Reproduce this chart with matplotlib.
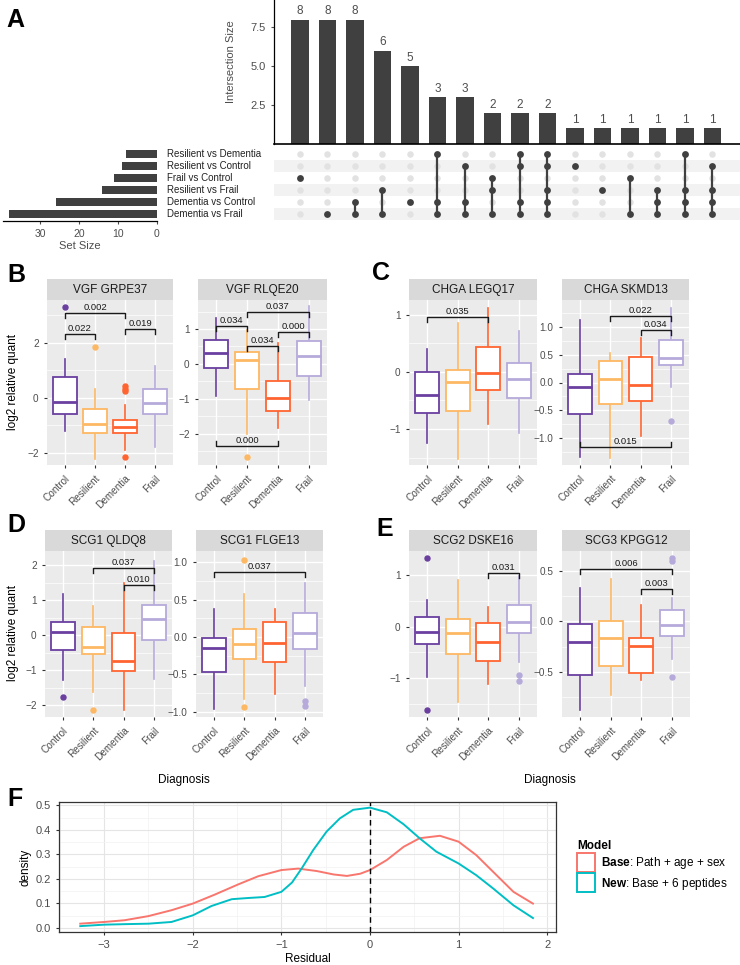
import numpy as np
import matplotlib
matplotlib.use('Agg')
from matplotlib import pyplot as plt
from matplotlib.patches import Patch
from matplotlib.ticker import AutoMinorLocator

plt.rcParams['font.family'] = ['Liberation Sans', 'DejaVu Sans']
plt.rcParams['mathtext.fontset'] = 'custom'
plt.rcParams['mathtext.rm'] = 'Liberation Sans'
plt.rcParams['mathtext.bf'] = 'Liberation Sans:bold'

W, H = 740, 965

# ---------------- panel A (upset) data
set_names = ['Resilient vs Dementia', 'Resilient vs Control', 'Frail vs Control',
             'Resilient vs Frail', 'Dementia vs Control', 'Dementia vs Frail']
set_sizes = [8, 9, 11, 14, 26, 38]
inter_sizes = [8, 8, 8, 6, 5, 3, 3, 2, 2, 2, 1, 1, 1, 1, 1, 1]
inter_members = [[2], [5], [4, 5], [3, 5], [4], [0, 4, 5], [1, 4, 5], [2, 3, 5],
                 [0, 1, 4, 5], [0, 1, 3, 4, 5], [1], [3], [2, 5], [3, 4, 5],
                 [0, 3, 4, 5], [1, 3, 4, 5]]

# ---------------- box plot data: [whisker low, q1, median, q3, whisker high]
groups = ['Control', 'Resilient', 'Dementia', 'Frail']
group_colors = ['#6a3fa0', '#fdb863', '#ff6430', '#b6aadb']

grpe37_stats = [[-1.19, -0.60, -0.15, 0.75, 1.41], [-2.22, -1.29, -0.94, -0.42, 0.34],
                [-1.89, -1.28, -1.05, -0.82, -0.27], [-1.80, -0.58, -0.17, 0.33, 1.17]]
grpe37_out = [[3.31], [1.85], [0.44, 0.34, 0.25, -2.14], []]
grpe37_brk = [(1, 3, 3.08, '0.002', 'down'), (1, 2, 2.34, '0.022', 'down'),
              (3, 4, 2.49, '0.019', 'down')]

rlqe20_stats = [[-0.92, -0.11, 0.31, 0.68, 1.31], [-2.02, -0.71, 0.10, 0.33, 0.98],
                [-1.85, -1.35, -0.97, -0.50, 0.60], [-1.04, -0.35, 0.22, 0.65, 1.65]]
rlqe20_out = [[], [-2.68], [], []]
rlqe20_brk = [(1, 2, 1.08, '0.034', 'down'), (2, 4, 1.48, '0.037', 'down'),
              (3, 4, 0.90, '0.000', 'down'), (2, 3, 0.52, '0.034', 'down'),
              (1, 3, -2.35, '0.000', 'up')]

legq17_stats = [[-1.25, -0.72, -0.40, 0.00, 0.41], [-1.53, -0.69, -0.18, 0.04, 0.85],
                [-0.91, -0.32, -0.01, 0.43, 1.12], [-1.07, -0.46, -0.12, 0.16, 0.71]]
legq17_out = [[], [], [], []]
legq17_brk = [(1, 3, 0.96, '0.035', 'down')]

skmd13_stats = [[-1.35, -0.57, -0.09, 0.15, 1.12], [-1.36, -0.38, 0.07, 0.39, 0.54],
                [-0.96, -0.33, -0.05, 0.46, 0.81], [-0.09, 0.31, 0.45, 0.77, 1.35]]
skmd13_out = [[], [], [], [-0.70]]
skmd13_brk = [(2, 4, 1.21, '0.022', 'down'), (3, 4, 0.94, '0.034', 'down'),
              (1, 4, -1.16, '0.015', 'up')]

qldq8_stats = [[-1.27, -0.42, 0.10, 0.36, 1.16], [-1.62, -0.55, -0.35, 0.22, 0.83],
               [-2.14, -1.03, -0.75, 0.05, 1.50], [-1.25, -0.14, 0.45, 0.85, 2.11]]
qldq8_out = [[-1.78], [-2.14], [], []]
qldq8_brk = [(2, 4, 1.92, '0.037', 'down'), (3, 4, 1.43, '0.010', 'down')]

flge13_stats = [[-0.96, -0.47, -0.15, -0.02, 0.38], [-0.83, -0.29, -0.09, 0.11, 0.57],
                [-0.76, -0.33, -0.08, 0.20, 0.37], [-0.66, -0.16, 0.05, 0.32, 0.72]]
flge13_out = [[], [1.03, -0.93], [], [-0.86, -0.92]]
flge13_brk = [(1, 4, 0.87, '0.037', 'down')]

dske16_stats = [[-0.98, -0.33, -0.10, 0.18, 0.52], [-1.47, -0.54, -0.12, 0.14, 0.90],
                [-1.11, -0.67, -0.30, 0.07, 0.39], [-0.69, -0.13, 0.08, 0.41, 0.98]]
dske16_out = [[1.33, -1.62], [], [], [-0.95, -1.05]]
dske16_brk = [(3, 4, 1.05, '0.031', 'down')]

kpgg12_stats = [[-0.88, -0.53, -0.20, -0.03, 0.33], [-0.73, -0.44, -0.16, 0.00, 0.42],
                [-0.58, -0.51, -0.24, -0.16, 0.16], [-0.37, -0.14, -0.04, 0.11, 0.23]]
kpgg12_out = [[], [], [], [0.63, 0.60, -0.55]]
kpgg12_brk = [(1, 4, 0.52, '0.006', 'down'), (3, 4, 0.32, '0.003', 'down')]

# ---------------- panel F (residual densities)
base_x = [-3.27, -3.00, -2.77, -2.50, -2.24, -2.00, -1.75, -1.49, -1.26, -1.00, -0.81,
          -0.60, -0.41, -0.26, -0.11, 0.00, 0.19, 0.38, 0.56, 0.79, 1.00, 1.20, 1.39,
          1.62, 1.84]
base_y = [0.017, 0.024, 0.031, 0.048, 0.072, 0.099, 0.136, 0.177, 0.211, 0.236, 0.242,
          0.232, 0.218, 0.212, 0.221, 0.236, 0.277, 0.331, 0.366, 0.376, 0.352, 0.297,
          0.229, 0.147, 0.099]
new_x = [-3.27, -3.00, -2.77, -2.50, -2.24, -2.00, -1.79, -1.56, -1.37, -1.19, -1.00,
         -0.88, -0.77, -0.64, -0.49, -0.34, -0.19, 0.00, 0.19, 0.38, 0.56, 0.75, 1.00,
         1.20, 1.39, 1.62, 1.84]
new_y = [0.007, 0.013, 0.015, 0.017, 0.024, 0.051, 0.089, 0.117, 0.122, 0.126, 0.147,
         0.185, 0.243, 0.318, 0.393, 0.447, 0.482, 0.491, 0.472, 0.423, 0.366, 0.311,
         0.263, 0.215, 0.161, 0.092, 0.040]

TXT = '#4d4d4d'
DARK = '#404040'

fig = plt.figure(figsize=(W / 100, H / 100), dpi=100)


def px_axes(x0, y0, x1, y1):
    return fig.add_axes([x0 / W, 1 - y1 / H, (x1 - x0) / W, (y1 - y0) / H])


def ftext(x, y, s, **kw):
    fig.text(x / W, 1 - y / H, s, **kw)


# ================= A: intersection bars
bx = px_axes(274, 0, 740, 144)
pos = np.arange(len(inter_sizes))
bx.bar(pos, inter_sizes, width=0.62, color=DARK)
for p, v in zip(pos, inter_sizes):
    bx.text(p, v + 0.15, str(v), ha='center', va='bottom', fontsize=8.5, color=TXT)
bx.set_xlim(-0.945, 16.0)
bx.set_ylim(0, 9.26)
bx.set_xticks([])
bx.set_yticks([2.5, 5.0, 7.5])
bx.set_yticklabels(['2.5', '5.0', '7.5'])
bx.tick_params(axis='y', labelsize=8, labelcolor=TXT, length=2.5, color=TXT)
for s in ['top', 'right']:
    bx.spines[s].set_visible(False)
bx.spines['left'].set_linewidth(0.9)
bx.spines['bottom'].set_linewidth(1.2)
ftext(231, 62, 'Intersection Size', rotation=90, ha='center', va='center',
      fontsize=8, color=TXT)

# matrix
mx = px_axes(274, 147, 740, 221)
mx.set_xlim(-0.945, 16.0)
mx.set_ylim(-0.58, 5.58)
for i in range(len(set_names)):
    if i % 2 == 1:
        mx.axhspan(5 - i - 0.5, 5 - i + 0.5, color='#f2f2f2', lw=0)
for p in pos:
    mx.scatter([p] * 6, [5 - i for i in range(6)], s=22, color='#e2e2e2', lw=0, zorder=2)
for p, mem in zip(pos, inter_members):
    ys = [5 - i for i in mem]
    if len(ys) > 1:
        mx.plot([p, p], [min(ys), max(ys)], color=DARK, lw=1.6, zorder=3)
    mx.scatter([p] * len(ys), ys, s=24, color=DARK, lw=0, zorder=4)
mx.axis('off')

# set sizes
sx = px_axes(3, 147, 157, 221)
sx.barh([5 - i for i in range(6)], set_sizes, height=0.6, color=DARK)
sx.set_xlim(39.5, 0)
sx.set_ylim(-0.58, 5.58)
sx.set_yticks([])
sx.set_xticks([0, 10, 20, 30])
sx.tick_params(axis='x', labelsize=7.5, labelcolor=TXT, length=2.5, color=TXT)
for s in ['top', 'right', 'left']:
    sx.spines[s].set_visible(False)
sx.spines['bottom'].set_linewidth(0.9)
sx.set_xlabel('Set Size', fontsize=8, color=TXT, labelpad=1)
for i, name in enumerate(set_names):
    ftext(167, 154 + 12 * i, name, ha='left', va='center', fontsize=7, color='#222222')


# ================= B-E: box plots
def box_panel(x0, x1, y0, y1, title, stats, outs, brks, ylim, yticks, ylabels):
    st = px_axes(x0, y0 - 21, x1, y0)
    st.set_facecolor('#d9d9d9')
    st.set_xticks([])
    st.set_yticks([])
    for s in st.spines.values():
        s.set_visible(False)
    st.text(0.5, 0.48, title, ha='center', va='center', fontsize=8.5, color='#1a1a1a',
            transform=st.transAxes)

    ax = px_axes(x0, y0, x1, y1)
    ax.set_facecolor('#ebebeb')
    for s in ax.spines.values():
        s.set_visible(False)
    ax.set_xlim(0.4, 4.6)
    ax.set_ylim(*ylim)
    ax.set_yticks(yticks)
    ax.set_yticklabels(ylabels)
    ax.yaxis.set_minor_locator(AutoMinorLocator(2))
    ax.grid(True, which='major', color='white', lw=1.0)
    ax.grid(True, which='minor', axis='y', color='white', lw=0.5)
    ax.set_axisbelow(True)
    ax.set_xticks([1, 2, 3, 4])
    ax.set_xticklabels(groups, rotation=45, ha='right', rotation_mode='anchor')
    ax.tick_params(labelsize=7.2, labelcolor=TXT, length=2.5, color='#333333', width=0.8)
    ax.tick_params(which='minor', length=0)

    bstats = []
    for k, (lo, q1, med, q3, hi) in enumerate(stats):
        bstats.append(dict(whislo=lo, q1=q1, med=med, q3=q3, whishi=hi, fliers=outs[k]))
    art = ax.bxp(bstats, positions=[1, 2, 3, 4], widths=0.78, patch_artist=True,
                 showcaps=False, manage_ticks=False)
    for k, c in enumerate(group_colors):
        art['boxes'][k].set(facecolor='white', edgecolor=c, linewidth=1.3, zorder=3)
        art['medians'][k].set(color=c, linewidth=2.0, zorder=4)
        for w in art['whiskers'][2 * k:2 * k + 2]:
            w.set(color=c, linewidth=1.2, zorder=2)
        art['fliers'][k].set(marker='o', markerfacecolor=c, markeredgecolor=c,
                             markersize=3.6, zorder=4)

    ppu = (y1 - y0) / (ylim[1] - ylim[0])
    h = 5 / ppu
    for i, j, y, lab, d in brks:
        tip = y - h if d == 'down' else y + h
        ax.plot([i, i, j, j], [tip, y, y, tip], color='#1a1a1a', lw=1.0, zorder=5)
        ax.text((i + j) / 2, y + 1 / ppu, lab, ha='center', va='bottom', fontsize=6.8,
                color='#1a1a1a', zorder=6)
    return ax


box_panel(47, 173, 300, 465, 'VGF GRPE37', grpe37_stats, grpe37_out, grpe37_brk,
          (-2.44, 3.56), [-2, 0, 2], ['\u22122', '0', '2'])
box_panel(198, 327, 300, 465, 'VGF RLQE20', rlqe20_stats, rlqe20_out, rlqe20_brk,
          (-2.9, 1.83), [-2, -1, 0, 1], ['\u22122', '\u22121', '0', '1'])
box_panel(409, 537, 300, 465, 'CHGA LEGQ17', legq17_stats, legq17_out, legq17_brk,
          (-1.63, 1.26), [-1, 0, 1], ['\u22121', '0', '1'])
box_panel(562, 689, 300, 465, 'CHGA SKMD13', skmd13_stats, skmd13_out, skmd13_brk,
          (-1.49, 1.49), [-1, -0.5, 0, 0.5, 1],
          ['\u22121.0', '\u22120.5', '0.0', '0.5', '1.0'])
box_panel(45, 172, 551, 717, 'SCG1 QLDQ8', qldq8_stats, qldq8_out, qldq8_brk,
          (-2.34, 2.4), [-2, -1, 0, 1, 2], ['\u22122', '\u22121', '0', '1', '2'])
box_panel(196, 323, 551, 717, 'SCG1 FLGE13', flge13_stats, flge13_out, flge13_brk,
          (-1.07, 1.15), [-1, -0.5, 0, 0.5, 1],
          ['\u22121.0', '\u22120.5', '0.0', '0.5', '1.0'])
box_panel(409, 537, 551, 717, 'SCG2 DSKE16', dske16_stats, dske16_out, dske16_brk,
          (-1.76, 1.47), [-1, 0, 1], ['\u22121', '0', '1'])
box_panel(562, 690, 551, 717, 'SCG3 KPGG12', kpgg12_stats, kpgg12_out, kpgg12_brk,
          (-0.95, 0.70), [-0.5, 0, 0.5], ['\u22120.5', '0.0', '0.5'])

ftext(13, 382, 'log2 relative quant', rotation=90, ha='center', va='center', fontsize=8.5)
ftext(13, 633, 'log2 relative quant', rotation=90, ha='center', va='center', fontsize=8.5)
ftext(184, 780, 'Diagnosis', ha='center', va='center', fontsize=8.5)
ftext(550, 780, 'Diagnosis', ha='center', va='center', fontsize=8.5)

# ================= F: density of residuals
fx = px_axes(59, 802, 556, 932)
fx.plot(base_x, base_y, color='#f8766d', lw=1.4)
fx.plot(new_x, new_y, color='#00bfc4', lw=1.4)
fx.axvline(0, color='black', lw=1.0, ls=(0, (4, 3)))
fx.set_xlim(-3.51, 2.10)
fx.set_ylim(-0.017, 0.514)
fx.set_xticks([-3, -2, -1, 0, 1, 2])
fx.set_xticklabels(['\u22123', '\u22122', '\u22121', '0', '1', '2'])
fx.set_yticks([0, 0.1, 0.2, 0.3, 0.4, 0.5])
fx.set_yticklabels(['0.0', '0.1', '0.2', '0.3', '0.4', '0.5'])
fx.xaxis.set_minor_locator(AutoMinorLocator(2))
fx.yaxis.set_minor_locator(AutoMinorLocator(2))
fx.grid(True, which='major', color='#e5e5e5', lw=0.8)
fx.grid(True, which='minor', color='#f2f2f2', lw=0.5)
fx.set_axisbelow(True)
fx.tick_params(labelsize=8, labelcolor=TXT, length=2.5, color='#333333', width=0.8)
fx.tick_params(which='minor', length=0)
for s in fx.spines.values():
    s.set_color('#333333')
    s.set_linewidth(0.9)
fx.set_xlabel('Residual', fontsize=8.5, labelpad=2)
fx.set_ylabel('density', fontsize=8.5, labelpad=3)

handles = [Patch(facecolor='white', edgecolor='#f8766d', linewidth=1.4),
           Patch(facecolor='white', edgecolor='#00bfc4', linewidth=1.4)]
labels = [r'$\mathbf{Base}$: Path + age + sex', r'$\mathbf{New}$: Base + 6 peptides']
leg = fig.legend(handles, labels, loc='upper left', bbox_to_anchor=(577 / W, 1 - 840 / H),
                 title='Model', frameon=False, fontsize=8.5, handlelength=1.5,
                 handleheight=2.1, handletextpad=0.5, labelspacing=0.1,
                 alignment='left', borderaxespad=0, borderpad=0)
leg.get_title().set_fontweight('bold')
leg.get_title().set_fontsize(8.5)

# panel letters
for lab, x, y in [('A', 6, 8), ('B', 7, 263), ('C', 372, 261), ('D', 7, 513),
                  ('E', 376, 517), ('F', 7, 787)]:
    ftext(x, y, lab, ha='left', va='top', fontsize=18, fontweight='bold')

fig.savefig('out.png', dpi=100)
